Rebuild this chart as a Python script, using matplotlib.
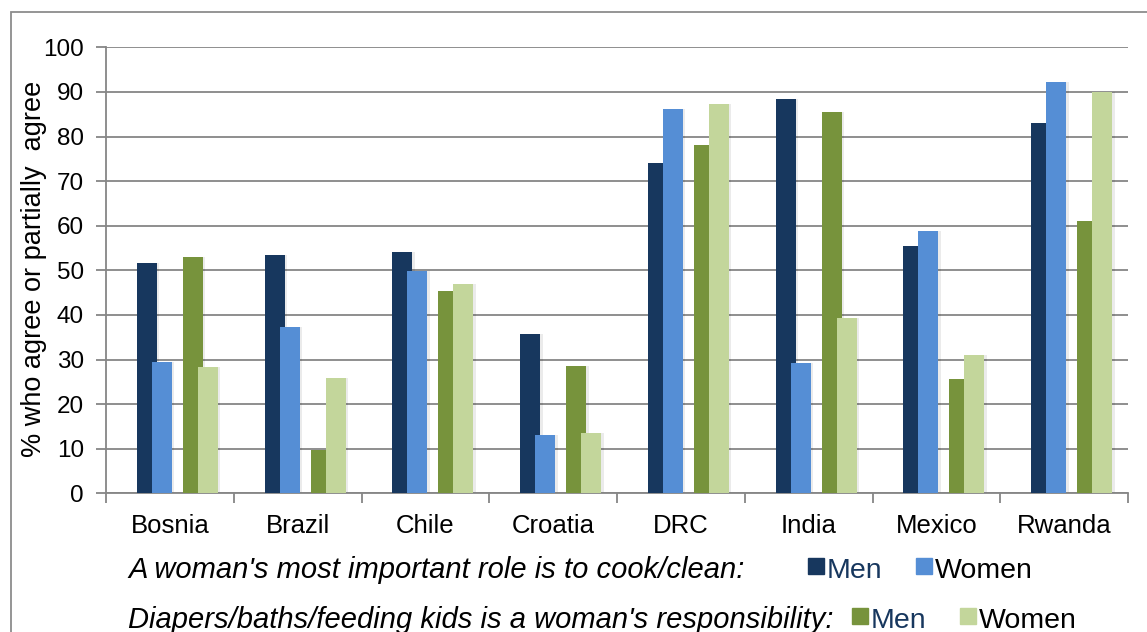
import matplotlib
matplotlib.use("Agg")
import matplotlib.pyplot as plt
from matplotlib.patches import Rectangle
import numpy as np

plt.rcParams['font.family'] = ['Liberation Sans', 'DejaVu Sans']

# values
countries = ["Bosnia", "Brazil", "Chile", "Croatia", "DRC", "India", "Mexico", "Rwanda"]
cook_men = [51.7, 53.4, 54.2, 35.7, 74.1, 88.4, 55.5, 83.0]
cook_women = [29.4, 37.2, 49.8, 13.0, 86.1, 29.2, 58.8, 92.2]
kids_men = [52.9, 9.8, 45.4, 28.5, 78.2, 85.5, 25.7, 61.1]
kids_women = [28.3, 25.9, 46.9, 13.6, 87.3, 39.3, 31.1, 90.0]

c_dark = "#17375E"
c_blue = "#558ED5"
c_green = "#77933C"
c_light = "#C3D69B"
grid_c = "#868686"

fig = plt.figure(figsize=(11.47, 6.32), dpi=100)
ax = fig.add_axes([106 / 1147, 1 - 493.3 / 632, (1128 - 106) / 1147, (493.3 - 47.3) / 632])

x = np.arange(len(countries))
w = 0.157
# bar centres inside each category (pixel offsets / category width)
offs = [-0.18, -0.063, 0.18, 0.297]
series = [(cook_men, c_dark), (cook_women, c_blue), (kids_men, c_green), (kids_women, c_light)]
for (vals, col), o in zip(series, offs):
    # soft shadow
    ax.bar(x + o + 0.02, vals, w, color="#000000", alpha=0.08, zorder=2, linewidth=0)
    ax.bar(x + o, vals, w, color=col, zorder=3, linewidth=0)

ax.set_xlim(-0.5, len(countries) - 0.5)
ax.set_ylim(0, 100)
ax.set_yticks(range(0, 101, 10))
ax.yaxis.grid(True, color=grid_c, linewidth=1.3)
ax.set_axisbelow(True)

ax.set_xticks(np.arange(-0.5, len(countries)), labels=[""] * (len(countries) + 1))
ax.set_xticks(x, labels=countries, minor=True)
ax.tick_params(axis="x", which="major", length=7, width=1.3, color=grid_c)
ax.tick_params(axis="x", which="minor", length=0, pad=15, labelsize=18.5)
ax.tick_params(axis="y", length=7, width=1.3, color=grid_c, pad=9, labelsize=17.5)

for s in ["top", "right"]:
    ax.spines[s].set_visible(False)
for s in ["left", "bottom"]:
    ax.spines[s].set_color(grid_c)
    ax.spines[s].set_linewidth(1.3)

ax.set_ylabel("% who agree or partially  agree", fontsize=19.5)
ax.yaxis.set_label_coords(-0.058, 0.503)

# frame around the chart
fig.patches.append(Rectangle((11 / 1147, -0.1), 1.2, 1 - 12 / 632 + 0.1,
                             transform=fig.transFigure, fill=False,
                             edgecolor="#8C8C8C", linewidth=1.3))

# legend rows
fs = 21
fig.text(128 / 1147, 1 - 578 / 632, "A woman's most important role is to cook/clean:",
         fontsize=fs, style="italic", va="baseline")
fig.text(128 / 1147, 1 - 628 / 632, "Diapers/baths/feeding kids is a woman's responsibility:",
         fontsize=fs, style="italic", va="baseline")

legend_items = [
    (808, 558, c_dark, "Men", c_dark),
    (916, 558, c_blue, "Women", "black"),
    (852, 608, c_green, "Men", c_dark),
    (960, 608, c_light, "Women", "black"),
]
for px, py, col, lab, tc in legend_items:
    fig.patches.append(Rectangle((px / 1147, 1 - (py + 16) / 632), 16 / 1147, 16 / 632,
                                 transform=fig.transFigure, color=col))
    fig.text((px + 19) / 1147, 1 - (py + 20) / 632, lab, fontsize=20.5,
             color=tc, va="baseline")

fig.savefig("out.png", dpi=100)
